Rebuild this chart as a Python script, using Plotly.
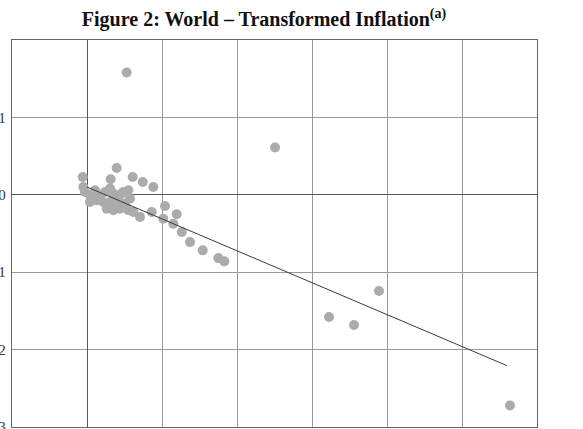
import plotly.graph_objects as go

# Scatter data (transformed inflation)
x_vals = [0.529, 2.507, -0.057, 0.396, 0.609, 0.743, 0.884, 0.316, -0.049, -0.027,
          0.04, 0.107, 0.173, 0.24, 0.307, 0.351, 0.417, 0.484, 0.551, 0.573,
          0.507, 0.396, 0.307, 0.217, 0.129, 0.04, 0.44, 0.551, 0.617, 0.263,
          0.351, 0.463, 1.04, 0.863, 0.707, 1.196, 1.017, 1.151, 1.263, 1.373,
          1.543, 1.751, 1.831, 3.227, 3.56, 3.893, 5.64]
y_vals = [1.581, 0.611, 0.230, 0.347, 0.230, 0.166, 0.101, 0.201, 0.101, 0.036,
          -0.006, 0.058, -0.006, 0.036, 0.080, 0.016, -0.028, 0.036, 0.058, -0.049,
          -0.114, -0.136, -0.093, -0.093, -0.071, -0.093, -0.179, -0.2, -0.222, -0.179,
          -0.2, 0.016, -0.145, -0.222, -0.287, -0.252, -0.308, -0.373, -0.481, -0.611,
          -0.718, -0.818, -0.860, -1.578, -1.682, -1.242, -2.723]

# Fitted line endpoints
fit_x = [0.0, 5.596]
fit_y = [0.101, -2.206]

y_ticks = [1, 0, -1, -2, -3]
x_ticks = [-1, 0, 1, 2, 3, 4, 5, 6]

fig = go.Figure()
fig.add_trace(go.Scatter(x=x_vals, y=y_vals, mode="markers",
                         marker=dict(size=10, color="#ababab", line=dict(width=0)),
                         showlegend=False, hoverinfo="skip"))
fig.add_trace(go.Scatter(x=fit_x, y=fit_y, mode="lines",
                         line=dict(color="#3a3a3a", width=1),
                         showlegend=False, hoverinfo="skip"))

fig.update_layout(
    width=583, height=429,
    margin=dict(l=12, r=46, t=40, b=2, autoexpand=False),
    paper_bgcolor="white", plot_bgcolor="white",
    font=dict(family="Liberation Serif", color="#333333"),
    title=dict(text="<b>Figure 2: World – Transformed Inflation<sup>(a)</sup></b>",
               font=dict(family="Liberation Serif", size=20, color="#111111"),
               x=264/583, xanchor="center", xref="container",
               y=1 - 19/429, yanchor="middle", yref="container", automargin=False),
    xaxis=dict(range=[-1, 6], tickvals=x_ticks, showticklabels=False,
               showgrid=True, gridcolor="#999999", gridwidth=1,
               zeroline=True, zerolinecolor="#555555", zerolinewidth=1.3,
               showline=True, linecolor="#666666", linewidth=1.3, mirror=True,
               ticks="", automargin=False),
    yaxis=dict(range=[-3, 2], tickvals=y_ticks,
               ticktext=[str(v) if v >= 0 else "−" + str(-v) for v in y_ticks],
               showgrid=True, gridcolor="#999999", gridwidth=1,
               zeroline=True, zerolinecolor="#555555", zerolinewidth=1.3,
               showline=True, linecolor="#666666", linewidth=1.3, mirror=True,
               ticks="", ticklabelstandoff=2, automargin=False,
               ticklabeloverflow="allow",
               tickfont=dict(family="Liberation Serif", size=15, color="#333333")),
)

fig.write_html("out.html")
